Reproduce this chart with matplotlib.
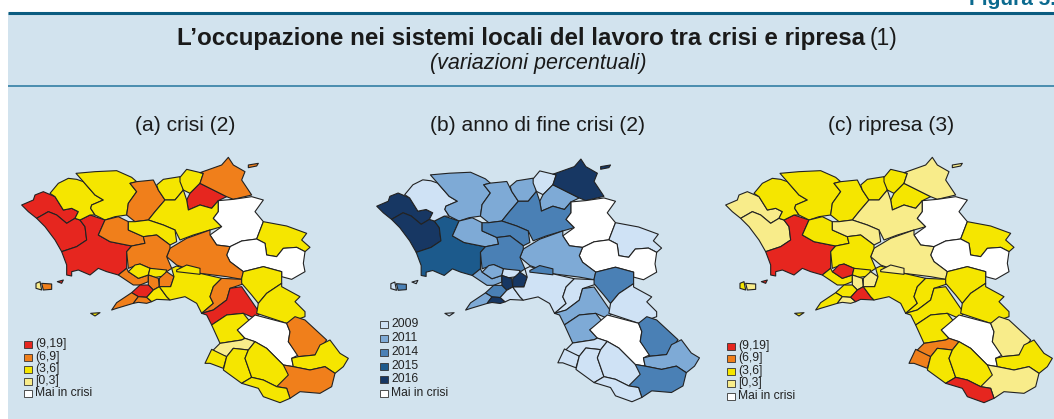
import matplotlib
matplotlib.use("Agg")
import matplotlib.pyplot as plt
from matplotlib.patches import Rectangle

plt.rcParams['font.family'] = ['Liberation Sans', 'DejaVu Sans']

W, H = 1054, 419

# map outlines, one vertex list per local labour system
regions = [
    [(65,195),(100,180),(105,165),(130,155),(165,170),(190,210),(215,205),(235,215),(225,235),(200,250),(170,225),(145,215),(110,235),(85,215)],
    [(110,235),(145,215),(170,225),(200,250),(225,235),(240,240),(255,260),(260,300),(230,320),(185,335),(165,300),(135,260)],
    [(185,335),(230,320),(260,300),(255,260),(240,240),(270,225),(300,235),(315,240),(295,285),(330,305),(395,318),(380,335),(380,385),(355,405),(320,395),(295,385),(270,405),(235,390),(215,395),(215,408),(200,405),(200,375)],
    [(150,160),(175,130),(205,115),(230,118),(250,125),(285,165),(310,180),(275,195),(272,205),(285,225),(270,225),(240,240),(225,235),(235,215),(215,205),(190,210),(165,170)],
    [(228,100),(285,95),(350,92),(395,112),(410,125),(390,130),(410,155),(385,190),(380,225),(345,230),(315,240),(285,225),(272,205),(275,195),(310,180),(285,165),(250,125)],
    [(390,130),(410,125),(460,120),(475,150),(495,180),(465,215),(445,240),(405,245),(380,225),(385,190),(410,155)],
    [(470,135),(490,118),(540,110),(550,150),(525,180),(495,180),(475,150)],
    [(540,112),(560,88),(610,100),(600,130),(570,160),(550,150),(540,125)],
    [(570,160),(600,130),(640,150),(680,170),(655,182),(635,205),(600,195),(565,210),(560,180)],
    [(600,98),(665,75),(685,52),(700,75),(735,95),(725,120),(755,165),(700,178),(680,170),(640,150),(600,130),(610,100)],
    [(745,75),(775,70),(770,78),(745,83)],
    [(465,215),(495,180),(525,180),(550,150),(560,180),(565,210),(600,195),(635,205),(655,182),(655,215),(640,235),(665,260),(630,270),(580,285),(540,300),(525,270),(490,255),(445,240)],
    [(655,182),(700,178),(755,170),(790,180),(765,215),(790,245),(770,297),(725,303),(690,320),(650,315),(630,285),(665,260),(640,235),(655,215)],
    [(790,245),(860,258),(920,280),(905,300),(930,322),(915,335),(890,322),(850,325),(830,350),(800,345),(795,310),(770,297)],
    [(680,345),(690,320),(725,303),(770,297),(795,310),(800,345),(830,350),(850,325),(890,322),(915,335),(910,370),(915,395),(875,418),(845,410),(845,395),(790,380),(730,395),(690,365)],
    [(510,325),(560,295),(630,270),(630,285),(650,315),(690,320),(680,345),(690,365),(730,395),(725,418),(680,410),(600,400),(530,375),(500,350)],
    [(295,285),(315,240),(355,230),(385,245),(385,270),(430,290),(435,310),(395,318),(330,305)],
    [(385,245),(405,245),(445,240),(490,255),(525,270),(530,305),(510,315),(470,285),(430,290),(385,270)],
    [(395,318),(435,310),(430,290),(470,285),(510,315),(510,325),(500,350),(515,385),(500,395),(450,385),(420,372),(385,385),(380,335)],
    [(355,405),(380,385),(385,395),(415,415),(445,405),(445,425),(420,435),(400,435),(385,425)],
    [(385,395),(405,375),(420,372),(450,385),(445,405),(415,415)],
    [(450,385),(500,390),(495,408),(465,412),(445,405)],
    [(445,425),(445,405),(475,415),(478,440),(460,450),(445,435)],
    [(478,415),(500,395),(522,410),(512,440),(478,440)],
    [(395,458),(420,435),(445,435),(460,450),(440,472),(415,470)],
    [(335,510),(350,488),(395,458),(415,470),(400,490),(350,505)],
    [(400,490),(415,470),(440,472),(455,485),(440,490),(415,487)],
    [(440,472),(460,450),(478,440),(500,470),(510,480),(470,478),(455,485)],
    [(478,440),(512,440),(522,410),(515,385),(530,378),(600,400),(665,415),(640,440),(630,470),(640,490),(605,520),(590,490),(555,470),(510,480),(500,470)],
    [(530,390),(560,375),(600,385),(600,403),(530,395)],
    [(665,415),(725,418),(735,430),(690,445),(680,480),(640,510),(605,520),(640,490),(630,470),(640,440)],
    [(690,445),(725,440),(780,520),(765,535),(730,520),(680,525),(635,555),(620,525),(605,520),(640,510),(680,480)],
    [(730,395),(790,380),(845,395),(845,430),(800,460),(775,490),(755,465),(725,430),(725,415)],
    [(845,430),(845,440),(900,470),(885,485),(915,515),(915,530),(860,550),(770,520),(775,490),(800,460)],
    [(635,555),(680,525),(730,520),(750,545),(712,570),(735,595),(725,600),(660,610)],
    [(712,570),(765,525),(860,550),(870,575),(865,605),(895,645),(875,655),(880,680),(850,675),(800,625),(765,605),(735,595)],
    [(860,550),(885,530),(915,540),(980,600),(945,645),(895,650),(865,605),(870,575)],
    [(875,655),(895,650),(945,645),(960,615),(990,600),(1020,640),(1045,655),(1030,680),(1005,700),(975,680),(930,690),(880,680)],
    [(830,740),(850,675),(880,680),(930,690),(975,680),(1005,700),(995,740),(960,760),(900,755),(870,775),(860,745)],
    [(640,630),(660,610),(725,600),(735,595),(765,605),(745,630),(700,625),(680,650),(650,640)],
    [(615,670),(635,628),(680,650),(670,685),(630,670)],
    [(680,650),(700,625),(745,630),(735,655),(755,712),(725,730),(670,690)],
    [(745,630),(765,605),(800,625),(850,675),(865,705),(830,740),(790,720),(755,712),(735,655)],
    [(725,730),(755,712),(790,720),(830,740),(860,745),(870,775),(840,788),(790,770),(775,745)],
    [(108,430),(120,425),(125,450),(108,445)],
    [(125,430),(155,432),(155,448),(130,450)],
    [(172,425),(190,420),(185,430)],
    [(272,520),(300,518),(285,528)],
]

# class of each region in the three maps (W = mai in crisi)
crisi = ['9','9','9','3','3','6','3','3','9','6','6','3','W','3','W','6','6','3','6','6','3','3','6','6',
         '9','6','6','3','3','3','6','9','3','3','3','W','6','3','6','0','3','3','3','3','0','6','9','3']
fine = ['2016','2016','2015','2009','2011','2011','2011','2009','2011','2016','2016','2014','W','2009','W','2011',
        '2011','2014','2014','2011','2011','2009','2016','2016','2014','2011','2016','2009','2009','2014','2009','2011',
        '2014','2009','2011','W','2014','2011','2014','2009','2009','2009','2009','2009','2009','2014','2009','2009']
ripresa = ['0','0','9','3','3','3','3','3','3','0','0','0','W','3','W','0','3','0','3','3','9','3','0','0',
           '3','3','0','9','3','0','3','3','3','3','3','W','0','3','0','6','6','3','3','9','3','0','9','3']

crisi_colors = {'9': '#e6261f', '6': '#f07f1b', '3': '#f5e600', '0': '#f8ec8a', 'W': 'white'}
fine_colors = {'2009': '#cfe2f5', '2011': '#7eaad6', '2014': '#4a80b5', '2015': '#1c5a8c',
               '2016': '#173763', 'W': 'white'}

crisi_labels = ['(9,19]', '(6,9]', '(3,6]', '[0,3]', 'Mai in crisi']
crisi_keys = ['9', '6', '3', '0', 'W']
fine_labels = ['2009', '2011', '2014', '2015', '2016', 'Mai in crisi']
fine_keys = ['2009', '2011', '2014', '2015', '2016', 'W']

panel_titles = ['(a) crisi (2)', '(b) anno di fine crisi (2)', '(c) ripresa (3)']


def draw_map(fig, box, classes, colors):
    """Draws one map in an axes placed at box = (left, top, width, height) pixels."""
    x, y, w, h = box
    ax = fig.add_axes([x / W, 1 - (y + h) / H, w / W, h / H])
    ax.set_xlim(0, 1080)
    ax.set_ylim(837, 0)
    ax.axis('off')
    for pts, c in zip(regions, classes):
        xs = [p[0] for p in pts]
        ys = [p[1] for p in pts]
        ax.fill(xs, ys, facecolor=colors[c], edgecolor='#222222', linewidth=0.8, joinstyle='round')


def draw_legend(ax, x, ys, labels, keys, colors):
    for y, lab, k in zip(ys, labels, keys):
        ax.add_patch(Rectangle((x, y - 3.5), 8, 7, facecolor=colors[k], edgecolor='#333333', linewidth=0.6))
        ax.text(x + 11, y, lab, fontsize=8.7, color='#222222', va='center', ha='left')


fig = plt.figure(figsize=(W / 100, H / 100), dpi=100, facecolor='white')

bg = fig.add_axes([0, 0, 1, 1])
bg.set_xlim(0, W)
bg.set_ylim(H, 0)
bg.axis('off')
bg.add_patch(Rectangle((8, 13), W - 8, H - 13, facecolor='#d2e3ee', edgecolor='none'))
bg.plot([8, W], [12.8, 12.8], color='#0b5c80', linewidth=2.2, solid_capstyle='butt')
bg.plot([8, W], [86, 86], color='#3f87aa', linewidth=1.3, solid_capstyle='butt')

bg.text(1056, 5, 'Figura 5.', fontsize=15, fontweight='bold', color='#0b6a8f', ha='right', va='baseline')
bg.text(177, 38, 'L’occupazione nei sistemi locali del lavoro tra crisi e ripresa', fontsize=17.4,
        fontweight='bold', color='#1a1a1a', ha='left', va='center')
bg.text(897, 38, '(1)', fontsize=16.5, color='#1a1a1a', ha='right', va='center')
bg.text(538, 64, '(variazioni percentuali)', fontsize=15.5, style='italic', color='#1a1a1a', ha='center', va='center')

for cx, t in zip([185, 538, 891], panel_titles):
    bg.text(cx, 125, t, fontsize=15.1, color='#1a1a1a', ha='center', va='center')

draw_map(fig, (0, 140, 360, 279), crisi, crisi_colors)
draw_map(fig, (355.3, 141.9, 355.7, 276), fine, fine_colors)
draw_map(fig, (704, 140, 360, 279), ripresa, crisi_colors)

draw_legend(bg, 24, [344, 357, 369, 381, 393], crisi_labels, crisi_keys, crisi_colors)
draw_legend(bg, 380, [324, 338, 352, 366, 379, 393], fine_labels, fine_keys, fine_colors)
draw_legend(bg, 727, [346, 358, 371, 383, 396], crisi_labels, crisi_keys, crisi_colors)

fig.savefig('out.png', dpi=100)
